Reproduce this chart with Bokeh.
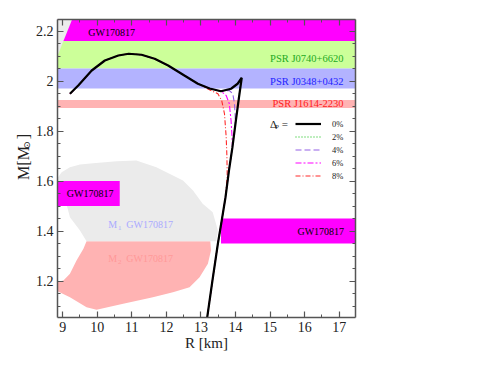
import numpy as np
from bokeh.plotting import figure
from bokeh.layouts import row
from bokeh.models import (Range1d, LinearAxis, FixedTicker, CustomJSTickFormatter,
                          Label, Legend, LegendItem, ColumnDataSource)
from bokeh.core.properties import value
from bokeh.embed import file_html
from bokeh.resources import INLINE

FONT = "Liberation Serif"

# ---------------- data ----------------
R_RANGE = [8.85, 17.47]
M_RANGE = [1.054, 2.246]
x_ticks = [9, 10, 11, 12, 13, 14, 15, 16, 17]
y_ticks = [1.2, 1.4, 1.6, 1.8, 2.0, 2.2]

# horizontal mass bands
band_names = ["GW170817", "PSR J0740+6620", "PSR J0348+0432", "PSR J1614-2230"]
band_lo = [2.16, 2.05, 1.97, 1.892]
band_hi = [2.30, 2.16, 2.05, 1.924]
band_colors = ["#ff00ff", "#ccff99", "#b3b3ff", "#ffb3b3"]
band_text_colors = ["#000000", "#22aa22", "#2222ff", "#ff2020"]
band_text_m = [2.194, 2.089, 2.0, 1.909]

# causality wedge (top-left gray)
wedge_r = [8.70, 9.43, 8.70]
wedge_m = [2.30, 2.30, 2.05]

# GW170817 radius boxes
gw_left = [8.70, 13.58]
gw_right = [10.65, 17.60]
gw_lo = [1.50, 1.35]
gw_hi = [1.60, 1.45]

# M1 / M2 GW170817 regions
m1_r = [8.80, 8.97, 9.21, 9.50, 9.88, 10.56, 11.13, 11.71, 12.48, 12.77, 13.05, 13.34,
        13.49, 13.44, 9.69, 9.50, 9.21, 9.12, 9.02]
m1_m = [1.602, 1.635, 1.655, 1.666, 1.671, 1.679, 1.682, 1.655, 1.602, 1.562, 1.509, 1.475,
        1.402, 1.359, 1.359, 1.402, 1.455, 1.502, 1.549]
m2_r = [9.69, 13.27, 13.29, 13.20, 12.96, 12.67, 12.19, 11.61, 10.75, 9.98, 9.69, 9.21,
        8.80, 8.80, 9.02, 9.21, 9.40, 9.60]
m2_m = [1.359, 1.359, 1.322, 1.269, 1.215, 1.175, 1.155, 1.135, 1.109, 1.085, 1.095, 1.135,
        1.162, 1.195, 1.202, 1.229, 1.282, 1.329]

# mass-radius curves
upper_r = [9.21, 9.45, 9.84, 10.22, 10.61, 10.91, 11.28, 11.66, 12.05, 12.52, 12.91, 13.25,
           13.58, 13.87, 14.06, 14.18]
upper_m = [1.949, 1.982, 2.042, 2.082, 2.102, 2.109, 2.105, 2.089, 2.062, 2.022, 1.989, 1.970,
           1.959, 1.969, 1.989, 2.013]
lower_r = [14.18, 14.10, 14.01, 13.91, 13.81, 13.71, 13.61, 13.49, 13.33, 13.18]
lower_m = [2.013, 1.935, 1.842, 1.735, 1.642, 1.535, 1.45, 1.35, 1.20, 1.054]

branch2_r = [14.15]
branch2_m = [2.003]
branch4_r = [13.82, 13.92, 13.97, 13.99, 13.99]
branch4_m = [1.962, 1.949, 1.909, 1.86, 1.82]
branch6_r = [13.73, 13.82, 13.87, 13.90]
branch6_m = [1.942, 1.909, 1.842, 1.775]
branch8_r = [13.29, 13.49, 13.60, 13.68, 13.73, 13.75, 13.76]
branch8_m = [1.962, 1.949, 1.922, 1.869, 1.775, 1.70, 1.62]

delta_labels = ["0%", "2%", "4%", "6%", "8%"]

curves = {
    "0%": (upper_r + lower_r[1:], upper_m + lower_m[1:]),
    "2%": (upper_r[:-1] + branch2_r + lower_r[1:], upper_m[:-1] + branch2_m + lower_m[1:]),
    "4%": (upper_r[:13] + branch4_r + lower_r[3:], upper_m[:13] + branch4_m + lower_m[3:]),
    "6%": (upper_r[:13] + branch6_r + lower_r[3:], upper_m[:13] + branch6_m + lower_m[3:]),
    "8%": (upper_r[:11] + branch8_r + lower_r[5:], upper_m[:11] + branch8_m + lower_m[5:]),
}
curve_style = {
    "0%": dict(line_color="black", line_width=2.2, line_dash="solid"),
    "2%": dict(line_color="#00bb00", line_width=1.1, line_dash="1 2"),
    "4%": dict(line_color="#9460e6", line_width=1.1, line_dash="6 3"),
    "6%": dict(line_color="#ff00ff", line_width=1.1, line_dash="6 2 2 2"),
    "8%": dict(line_color="#ff2a2a", line_width=1.1, line_dash="5 2 1 2"),
}

TOTAL_W, TOTAL_H = 476, 366
LABEL_W = 32

# ---------------- main figure ----------------
p = figure(width=TOTAL_W - LABEL_W, height=TOTAL_H,
           x_range=Range1d(*R_RANGE), y_range=Range1d(*M_RANGE),
           output_backend="svg", toolbar_location=None,
           min_border_left=56 - LABEL_W, min_border_right=121, min_border_top=19,
           min_border_bottom=49, x_axis_label="R [km]")
p.grid.visible = False
p.outline_line_color = None
p.background_fill_color = "white"
p.border_fill_color = "white"

# regions
p.patch(m2_r, m2_m, fill_color="#ffb3b3", line_color=None)
p.patch(m1_r, m1_m, fill_color="#ebebeb", line_color=None)

band_src = ColumnDataSource(dict(left=[R_RANGE[0] - 1] * 4, right=[R_RANGE[1] + 1] * 4,
                                 bottom=band_lo, top=band_hi, color=band_colors))
p.quad(left="left", right="right", bottom="bottom", top="top", fill_color="color",
       line_color=None, source=band_src)
p.patch(wedge_r, wedge_m, fill_color="#ebebeb", line_color=None)

gw_src = ColumnDataSource(dict(left=gw_left, right=gw_right, bottom=gw_lo, top=gw_hi))
p.quad(left="left", right="right", bottom="bottom", top="top", fill_color="#ff00ff",
       line_color=None, source=gw_src)

# band texts
p.text(x=[9.74], y=[band_text_m[0]], text=[band_names[0]], text_align="left",
       text_baseline="middle", text_font=value(FONT), text_font_size="10px",
       text_color=band_text_colors[0])
p.text(x=[17.12] * 3, y=band_text_m[1:], text=band_names[1:], text_align="right",
       text_baseline="middle", text_font=value(FONT), text_font_size="10.5px",
       text_color=band_text_colors[1:])
p.text(x=[9.12], y=[1.55], text=["GW170817"], text_align="left", text_baseline="middle",
       text_font=value(FONT), text_font_size="10px", text_color="black")
p.text(x=[17.14], y=[1.399], text=["GW170817"], text_align="right", text_baseline="middle",
       text_font=value(FONT), text_font_size="10px", text_color="black")

# M1 / M2 labels
for yy, col, sub in [(1.426, "#aaaaff", "1"), (1.290, "#ff9999", "2")]:
    p.text(x=[10.32], y=[yy], text=["M"], text_align="left", text_baseline="middle",
           text_font=value(FONT), text_font_size="10px", text_color=col)
    p.text(x=[10.60], y=[yy - 0.014], text=[sub], text_align="left", text_baseline="middle",
           text_font=value(FONT), text_font_size="7px", text_color=col)
    p.text(x=[10.84], y=[yy], text=["GW170817"], text_align="left", text_baseline="middle",
           text_font=value(FONT), text_font_size="10px", text_color=col)

# curves (black on top)
renderers = {}
for key in ["2%", "4%", "6%", "8%", "0%"]:
    r, m = curves[key]
    renderers[key] = p.line(r, m, **curve_style[key])

legend = Legend(items=[LegendItem(label=k, renderers=[renderers[k]]) for k in delta_labels],
                location=(238, 136), orientation="vertical",
                glyph_width=26, glyph_height=11, label_height=11, spacing=2,
                label_standoff=11, padding=0, margin=0,
                border_line_color=None, background_fill_alpha=0,
                label_text_font=FONT, label_text_font_size="8.5px", label_text_color="#222222")
p.add_layout(legend)

# Delta_P = label
p.add_layout(Label(x=15.0, y=1.829, text="Δ", text_font=FONT, text_font_size="11px",
                   text_baseline="middle", text_align="left", text_color="#222222"))
p.add_layout(Label(x=15.14, y=1.815, text="P", text_font=FONT, text_font_size="7px",
                   text_baseline="middle", text_align="left", text_color="#222222"))
p.add_layout(Label(x=15.34, y=1.829, text="=", text_font=FONT, text_font_size="11px",
                   text_baseline="middle", text_align="left", text_color="#222222"))

# ---------------- axes ----------------
x_minor = [v / 2 for v in range(17, 36)]
y_minor = [round(1.05 + 0.05 * i, 2) for i in range(25)]
xt = FixedTicker(ticks=x_ticks, minor_ticks=x_minor)
yt = FixedTicker(ticks=y_ticks, minor_ticks=y_minor)
yfmt = CustomJSTickFormatter(code="return String(Number(tick.toFixed(1)))")


def style_axis(ax, show_labels):
    ax.axis_line_color = "#555555"
    ax.axis_line_width = 1.5
    ax.major_tick_line_color = "#555555"
    ax.minor_tick_line_color = "#555555"
    ax.major_tick_line_width = 1.2
    ax.minor_tick_line_width = 1.0
    ax.major_tick_in = 6
    ax.major_tick_out = 0
    ax.minor_tick_in = 3
    ax.minor_tick_out = 0
    if show_labels:
        ax.major_label_text_font = FONT
        ax.major_label_text_font_size = "14px"
        ax.major_label_text_color = "#222222"
        ax.major_label_standoff = 4
    else:
        ax.major_label_text_font_size = "1px"
        ax.major_label_text_color = None
        ax.major_label_standoff = 0


xa = p.xaxis[0]
xa.ticker = xt
style_axis(xa, True)
xa.axis_label_text_font = FONT
xa.axis_label_text_font_style = "normal"
xa.axis_label_text_font_size = "15px"
xa.axis_label_text_color = "#222222"
xa.axis_label_standoff = 0

ya = p.yaxis[0]
ya.ticker = yt
ya.formatter = yfmt
style_axis(ya, True)

top_ax = LinearAxis(ticker=FixedTicker(ticks=x_ticks, minor_ticks=x_minor),
                    formatter=CustomJSTickFormatter(code="return ''"))
style_axis(top_ax, False)
p.add_layout(top_ax, "above")
right_ax = LinearAxis(ticker=FixedTicker(ticks=y_ticks, minor_ticks=y_minor),
                      formatter=CustomJSTickFormatter(code="return ''"))
style_axis(right_ax, False)
p.add_layout(right_ax, "right")

# ---------------- y-axis label panel: M[M_sun] ----------------
q = figure(width=LABEL_W, height=TOTAL_H, x_range=Range1d(0, LABEL_W),
           y_range=Range1d(0, TOTAL_H), output_backend="svg", toolbar_location=None,
           min_border=0, min_border_left=0, min_border_right=0, min_border_top=0,
           min_border_bottom=0)
q.axis.visible = False
q.grid.visible = False
q.outline_line_color = None
q.border_fill_color = "white"
q.text(x=[23], y=[169], text=["M[M"], angle=np.pi / 2, text_align="left",
       text_baseline="alphabetic", text_font=value(FONT), text_font_size="16px",
       text_color="#222222")
q.text(x=[26.5], y=[207], text=["⊙"], angle=np.pi / 2, text_align="left",
       text_baseline="alphabetic", text_font=value("DejaVu Sans"), text_font_size="9px",
       text_color="#222222")
q.text(x=[23], y=[219], text=["]"], angle=np.pi / 2, text_align="left",
       text_baseline="alphabetic", text_font=value(FONT), text_font_size="16px",
       text_color="#222222")

layout = row(q, p)
open("out.html", "w").write(file_html(layout, INLINE))
